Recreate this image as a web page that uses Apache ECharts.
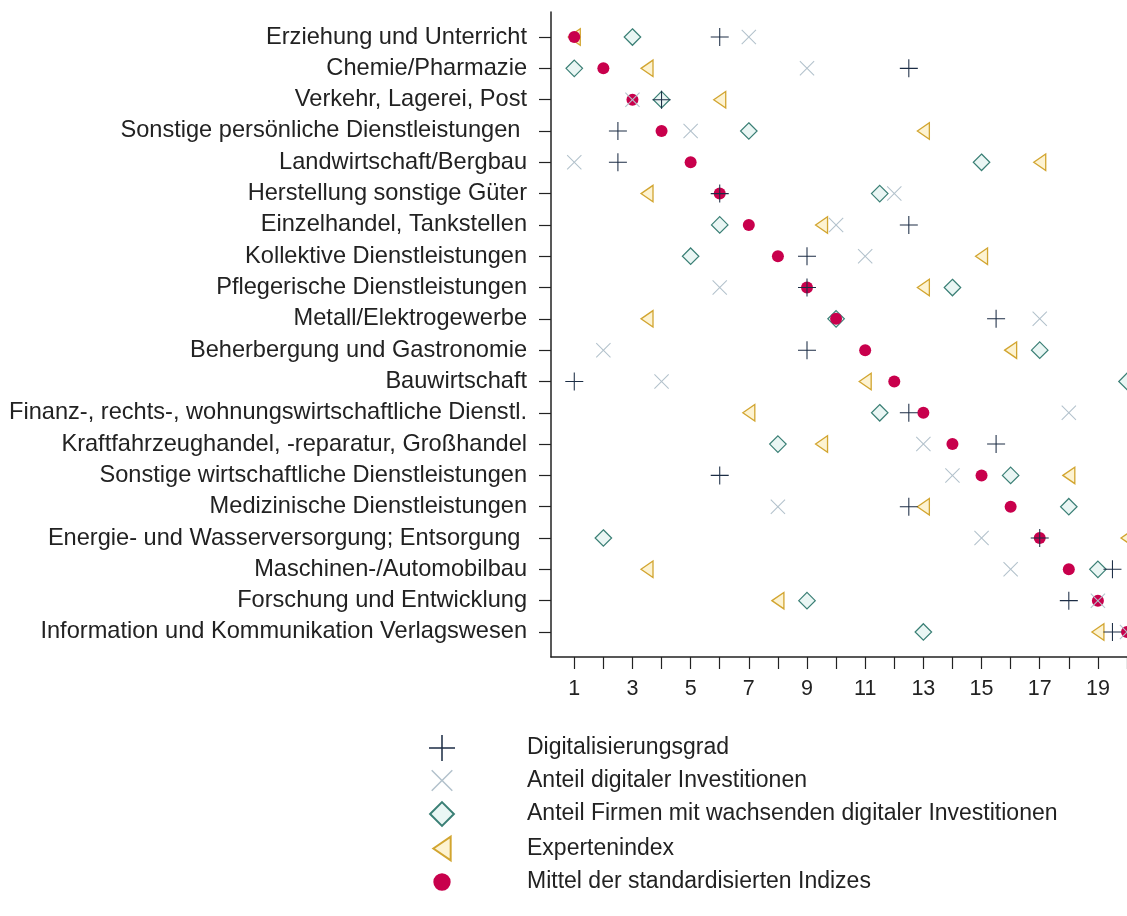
<!DOCTYPE html>
<html>
<head>
<meta charset="utf-8">
<script src="https://cdn.jsdelivr.net/npm/echarts@6/dist/echarts.min.js"></script>
<style>
html,body{margin:0;padding:0;background:#fff;}
#chart{width:1127px;height:916px;}
</style>
</head>
<body>
<div id="chart"></div>
<script>
const categories = [
  "Erziehung und Unterricht",
  "Chemie/Pharmazie",
  "Verkehr, Lagerei, Post",
  "Sonstige persönliche Dienstleistungen ",
  "Landwirtschaft/Bergbau",
  "Herstellung sonstige Güter",
  "Einzelhandel, Tankstellen",
  "Kollektive Dienstleistungen",
  "Pflegerische Dienstleistungen",
  "Metall/Elektrogewerbe",
  "Beherbergung und Gastronomie",
  "Bauwirtschaft",
  "Finanz-, rechts-, wohnungswirtschaftliche Dienstl.",
  "Kraftfahrzeughandel, -reparatur, Großhandel",
  "Sonstige wirtschaftliche Dienstleistungen",
  "Medizinische Dienstleistungen",
  "Energie- und Wasserversorgung; Entsorgung ",
  "Maschinen-/Automobilbau",
  "Forschung und Entwicklung",
  "Information und Kommunikation Verlagswesen"
];
const seriesNames = [
  "Digitalisierungsgrad",
  "Anteil digitaler Investitionen",
  "Anteil Firmen mit wachsenden digitaler Investitionen",
  "Expertenindex",
  "Mittel der standardisierten Indizes"
];
const digitalisierungsgrad = [6, 12.5, 4, 2.5, 2.5, 6, 12.5, 9, 9, 15.5, 9, 1, 12.5, 15.5, 6, 12.5, 17, 19.5, 18, 19.5];
const anteilInvestitionen = [7, 9, 3, 5, 1, 12, 10, 11, 6, 17, 2, 4, 18, 13, 14, 8, 15, 16, 19, 20];
const anteilFirmen = [3, 1, 4, 7, 15, 11.5, 6, 5, 14, 10, 17, 20, 11.5, 8, 16, 18, 2, 19, 9, 13];
const expertenindex = [1, 3.5, 6, 13, 17, 3.5, 9.5, 15, 13, 3.5, 16, 11, 7, 9.5, 18, 13, 20, 3.5, 8, 19];
const mittel = [1, 2, 3, 4, 5, 6, 7, 8, 9, 10, 11, 12, 13, 14, 15, 16, 17, 18, 19, 20];
const xTicks = [1, 2, 3, 4, 5, 6, 7, 8, 9, 10, 11, 12, 13, 14, 15, 16, 17, 18, 19, 20];
const xTickLabels = [1, 3, 5, 7, 9, 11, 13, 15, 17, 19];
const rowTicks = [1, 2, 3, 4, 5, 6, 7, 8, 9, 10, 11, 12, 13, 14, 15, 16, 17, 18, 19, 20];

const PAD = ' M0,0 M24,24';
const SYM_PLUS = 'path://M0,11.3 H24 V12.7 H0 Z M11.3,0 H12.7 V24 H11.3 Z' + PAD;
const SYM_X = 'path://M2,3 L3,2 L12,11 L21,2 L22,3 L13,12 L22,21 L21,22 L12,13 L3,22 L2,21 L11,12 Z' + PAD;
const SYM_DIAMOND = 'path://M12,1 L23,12 L12,23 L1,12 Z' + PAD;
const SYM_TRI = 'path://M4,12 L20,1 L20,23 Z' + PAD;
const SYM_DOT = 'path://M4,12 A8,8 0 1,0 20,12 A8,8 0 1,0 4,12 Z' + PAD;

const FONT = "'Liberation Sans', Arial, sans-serif";

function toPoints(vals) { return vals.map((v, i) => [v, i + 1]); }

const chart = echarts.init(document.getElementById('chart'), null, {renderer: 'canvas'});
const SZ = 18;
chart.setOption({
  animation: false,
  backgroundColor: '#ffffff',
  grid: {left: 551, right: 0, top: 12, bottom: 259, containLabel: false},
  xAxis: {
    type: 'value', min: 0.2, max: 20,
    axisLine: {show: true, onZero: false, lineStyle: {color: '#222', width: 1.5}},
    axisTick: {show: true, customValues: xTicks, length: 12, lineStyle: {color: '#222', width: 1.2}},
    axisLabel: {customValues: xTickLabels, margin: 21, fontSize: 21.5, color: '#222', fontFamily: FONT},
    splitLine: {show: false}
  },
  yAxis: {
    type: 'value', min: 0.2, max: 20.8, inverse: true,
    axisLine: {show: true, onZero: false, lineStyle: {color: '#222', width: 1.5}},
    axisTick: {show: true, customValues: rowTicks, length: 12, lineStyle: {color: '#222', width: 1.2}},
    axisLabel: {
      customValues: rowTicks, margin: 24, fontSize: 23.6, color: '#222', fontFamily: FONT,
      formatter: function (v) { return categories[Math.round(v) - 1] || ''; }
    },
    splitLine: {show: false}
  },
  legend: {
    orient: 'vertical', left: 423, top: 730,
    itemWidth: 26, itemHeight: 26, itemGap: 6.5,
    data: seriesNames,
    textStyle: {fontSize: 23, color: '#222', fontFamily: FONT, padding: [0, 0, 0, 67], lineHeight: 26},
    selectedMode: false
  },
  series: [
    {
      name: seriesNames[3], type: 'scatter', z: 2, symbol: SYM_TRI, symbolSize: SZ, symbolKeepAspect: true,
      itemStyle: {color: '#fdf3d2', borderColor: '#d2a530', borderWidth: 1.3, opacity: 1},
      data: toPoints(expertenindex)
    },
    {
      name: seriesNames[2], type: 'scatter', z: 3, symbol: SYM_DIAMOND, symbolSize: SZ, symbolKeepAspect: true,
      itemStyle: {color: '#eaf6f4', borderColor: '#3a7f75', borderWidth: 1.2, opacity: 1},
      data: toPoints(anteilFirmen)
    },
    {
      name: seriesNames[4], type: 'scatter', z: 4, symbol: SYM_DOT, symbolSize: SZ, symbolKeepAspect: true,
      itemStyle: {color: '#c8004c', borderWidth: 0, opacity: 1},
      data: toPoints(mittel)
    },
    {
      name: seriesNames[1], type: 'scatter', z: 5, symbol: SYM_X, symbolSize: SZ, symbolKeepAspect: true,
      itemStyle: {color: '#b3c2cc', borderWidth: 0, opacity: 1},
      data: toPoints(anteilInvestitionen)
    },
    {
      name: seriesNames[0], type: 'scatter', z: 6, symbol: SYM_PLUS, symbolSize: SZ, symbolKeepAspect: true,
      itemStyle: {color: '#1c2d45', borderWidth: 0, opacity: 1},
      data: toPoints(digitalisierungsgrad)
    }
  ]
});
</script>
</body>
</html>
